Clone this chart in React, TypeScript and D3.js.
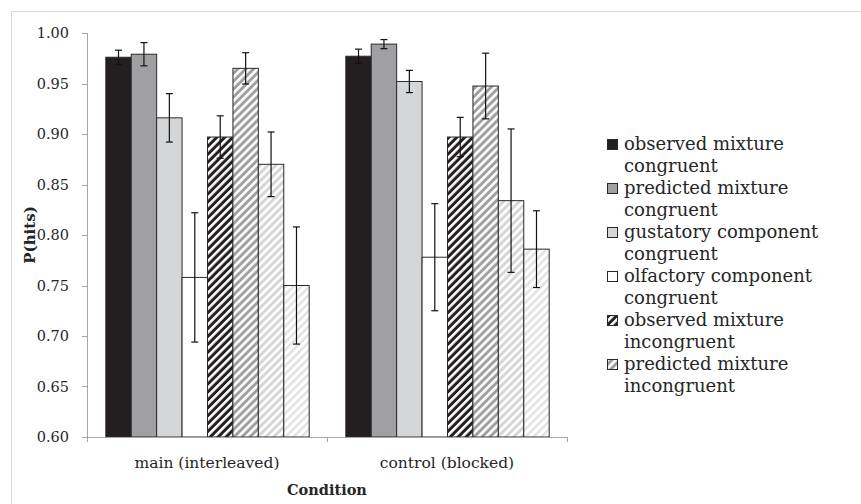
import React from "react";
import * as d3 from "d3";

// Conditions on the x axis
const conditions = ["main (interleaved)", "control (blocked)"];

// Series (bar order within each condition)
const seriesNames = [
  "observed mixture congruent",
  "predicted mixture congruent",
  "gustatory component congruent",
  "olfactory component congruent",
  "observed mixture incongruent",
  "predicted mixture incongruent",
  "gustatory component incongruent",
  "olfactory component incongruent",
];

// Legend labels, each split over two lines
const legendLines = [
  ["observed mixture", "congruent"],
  ["predicted mixture", "congruent"],
  ["gustatory component", "congruent"],
  ["olfactory component", "congruent"],
  ["observed mixture", "incongruent"],
  ["predicted mixture", "incongruent"],
];

// P(hits) per series, main condition
const mainValues = [0.976, 0.979, 0.916, 0.758, 0.897, 0.965, 0.87, 0.75];
const mainErrors = [0.007, 0.0115, 0.024, 0.064, 0.021, 0.0155, 0.032, 0.058];

// P(hits) per series, control condition
const controlValues = [0.977, 0.989, 0.952, 0.778, 0.897, 0.9475, 0.834, 0.786];
const controlErrors = [0.007, 0.0045, 0.011, 0.053, 0.0195, 0.0325, 0.071, 0.038];

const yTicks = [0.6, 0.65, 0.7, 0.75, 0.8, 0.85, 0.9, 0.95, 1.0];

const W = 861;
const H = 504;
const FONT = "'DejaVu Serif', serif";
const AXIS = "#a6a6a6";

type Fill = { base: string; stripe?: string };
const fills: Fill[] = [
  { base: "#231f20" },
  { base: "#a0a0a3" },
  { base: "#d5d6d8" },
  { base: "#ffffff" },
  { base: "#231f20", stripe: "#ffffff" },
  { base: "#a0a0a3", stripe: "#ffffff" },
  { base: "#d5d6d8", stripe: "#ffffff" },
  { base: "#ffffff", stripe: "#e2e3e4" },
];

const fillRef = (i: number) =>
  fills[i].stripe ? `url(#hatch-${i})` : fills[i].base;

export default function App() {
  const plot = { left: 87, right: 567, top: 33, bottom: 437 };

  const y = d3.scaleLinear().domain([0.6, 1.0]).range([plot.bottom, plot.top]);
  const x0 = d3
    .scaleBand<string>()
    .domain(conditions)
    .range([plot.left, plot.right])
    .padding(0);
  const x1 = d3
    .scaleBand<number>()
    .domain(d3.range(seriesNames.length))
    .range([0, x0.bandwidth()])
    .paddingInner(0)
    .paddingOuter(0.72);

  const table = conditions.map((c, gi) => ({
    condition: c,
    values: gi === 0 ? mainValues : controlValues,
    errors: gi === 0 ? mainErrors : controlErrors,
  }));

  const bw = x1.bandwidth();
  const capHalf = 3.5;

  const legendX = 607;
  const legendY0 = 144;
  const entryGap = 44;
  const lineGap = 22;
  const sw = 10;

  return (
    <svg
      width={W}
      height={H}
      style={{ position: "absolute", left: 0, top: 0, background: "#fff" }}
      fontFamily={FONT}
    >
      <defs>
        {fills.map((f, i) =>
          f.stripe ? (
            <pattern
              key={i}
              id={`hatch-${i}`}
              width={5.6}
              height={5.6}
              patternUnits="userSpaceOnUse"
              patternTransform="rotate(45)"
            >
              <rect width={5.6} height={5.6} fill={f.base} />
              <rect x={0} width={2.6} height={5.6} fill={f.stripe} />
            </pattern>
          ) : null
        )}
      </defs>

      {/* chart frame */}
      <rect x={11.5} y={11.5} width={W + 20} height={H + 20} fill="none" stroke="#d9d9d9" />

      {/* bars */}
      {table.map((g) => (
        <g key={g.condition} transform={`translate(${x0(g.condition)},0)`}>
          {g.values.map((v, i) => (
            <rect
              key={i}
              x={(x1(i) as number) + 0.5}
              y={y(v)}
              width={bw}
              height={y(0.6) - y(v)}
              fill={fillRef(i)}
              stroke="#2a2a2a"
              strokeWidth={1}
            />
          ))}
          {g.values.map((v, i) => {
            const cx = (x1(i) as number) + bw / 2 + 0.5;
            const top = y(v + g.errors[i]);
            const bot = y(v - g.errors[i]);
            return (
              <g key={`e${i}`} stroke="#111" strokeWidth={1.2}>
                <line x1={cx} x2={cx} y1={top} y2={bot} />
                <line x1={cx - capHalf} x2={cx + capHalf} y1={top} y2={top} />
                <line x1={cx - capHalf} x2={cx + capHalf} y1={bot} y2={bot} />
              </g>
            );
          })}
        </g>
      ))}

      {/* y axis */}
      <line x1={plot.left + 0.5} x2={plot.left + 0.5} y1={y(1.0)} y2={y(0.6)} stroke={AXIS} />
      {yTicks.map((t) => (
        <g key={t}>
          <line
            x1={plot.left - 5}
            x2={plot.left + 0.5}
            y1={Math.round(y(t)) + 0.5}
            y2={Math.round(y(t)) + 0.5}
            stroke={AXIS}
          />
          <text
            x={plot.left - 18}
            y={y(t)}
            dy="0.35em"
            textAnchor="end"
            fontSize={14.5}
            fill="#262626"
          >
            {d3.format(".2f")(t)}
          </text>
        </g>
      ))}

      {/* x axis */}
      <line
        x1={plot.left - 5}
        x2={plot.right}
        y1={plot.bottom + 0.5}
        y2={plot.bottom + 0.5}
        stroke={AXIS}
      />
      {[...conditions.map((c) => x0(c) as number), plot.right].map((tx, i) => (
        <line
          key={i}
          x1={tx + 0.5}
          x2={tx + 0.5}
          y1={plot.bottom}
          y2={plot.bottom + 5}
          stroke={AXIS}
        />
      ))}
      {conditions.map((c) => (
        <text
          key={c}
          x={(x0(c) as number) + x0.bandwidth() / 2}
          y={463}
          dy="0.35em"
          textAnchor="middle"
          fontSize={15.5}
          fill="#262626"
        >
          {c}
        </text>
      ))}

      {/* axis titles */}
      <text
        x={(plot.left + plot.right) / 2}
        y={490}
        dy="0.35em"
        textAnchor="middle"
        fontSize={14.5}
        fontWeight="bold"
        fill="#262626"
      >
        Condition
      </text>
      <text
        transform={`translate(30,${(plot.top + plot.bottom) / 2}) rotate(-90)`}
        dy="0.35em"
        textAnchor="middle"
        fontSize={15}
        fontWeight="bold"
        fill="#262626"
      >
        P(hits)
      </text>

      {/* legend */}
      {legendLines.map((lines, i) => {
        const ly = legendY0 + i * entryGap;
        return (
          <g key={seriesNames[i]}>
            <rect
              x={legendX + 0.5}
              y={ly - sw / 2 + 0.5}
              width={sw}
              height={sw}
              fill={fillRef(i)}
              stroke="#2a2a2a"
            />
            {lines.map((ln, k) => (
              <text
                key={k}
                x={legendX + 17}
                y={ly + k * lineGap}
                dy="0.35em"
                fontSize={18}
                fill="#262626"
              >
                {ln}
              </text>
            ))}
          </g>
        );
      })}
    </svg>
  );
}
